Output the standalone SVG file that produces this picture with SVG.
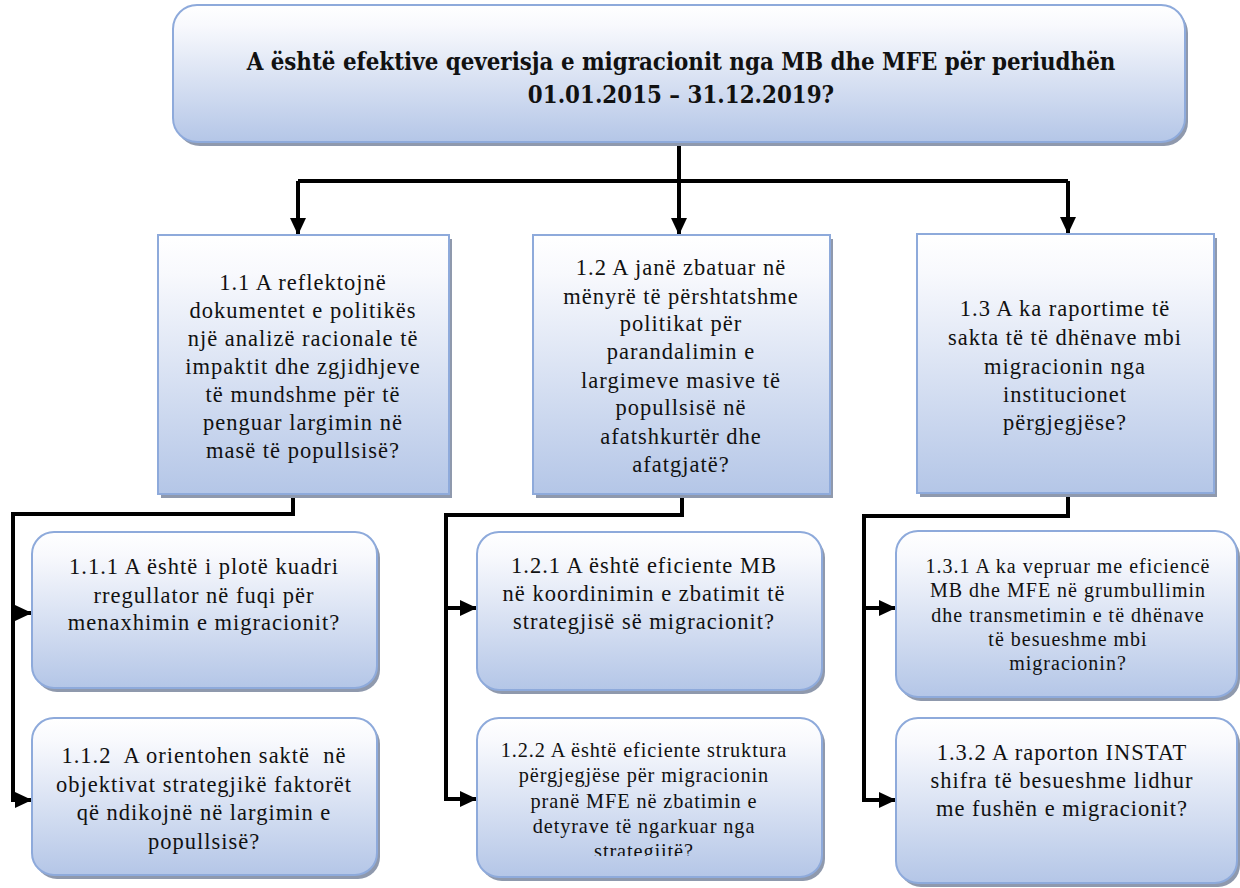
<svg xmlns="http://www.w3.org/2000/svg" width="1240" height="888" viewBox="0 0 1240 888">
<style>
  .box { stroke: #8eaadb; stroke-width: 2; fill: url(#grad); }
  .shadow { fill: #8f99ad; }
  .t { font-family: 'Liberation Serif', 'Times New Roman', serif; font-size: 22.5px; letter-spacing: 1px; fill: #111; text-anchor: middle; }
  .ts { font-size: 20px; letter-spacing: 1px; }
  .tm { font-size: 20.3px; letter-spacing: 0.9px; }
  .title { font-family: 'DejaVu Serif Condensed', 'DejaVu Serif', serif; font-stretch: condensed; font-weight: bold; font-size: 23.8px; fill: #111; text-anchor: middle; }
  .c { fill: none; stroke: #000; stroke-width: 4; }
  .a { fill: none; stroke: #000; stroke-width: 4; marker-end: url(#arr); }
</style>
<defs>
  <linearGradient id="grad" x1="0" y1="0" x2="0" y2="1">
    <stop offset="0" stop-color="#ffffff"/>
    <stop offset="0.15" stop-color="#f8f9fd"/>
    <stop offset="1" stop-color="#b4c6e7"/>
  </linearGradient>
  <marker id="arr" markerUnits="userSpaceOnUse" markerWidth="18" markerHeight="18" viewBox="0 0 18 18" refX="17" refY="9" orient="auto">
    <path d="M0 1 L17 9 L0 17 Z" fill="#000"/>
  </marker>
  <clipPath id="clip122"><rect x="477" y="718" width="345" height="138"/></clipPath>
</defs>

<g id="connectors">
  <path class="c" d="M679 143 V181 M298 181 H1068"/>
  <path class="a" d="M298 181 V235"/>
  <path class="a" d="M679 181 V235"/>
  <path class="a" d="M1068 181 V234"/>
  <path class="c" d="M293 495 V514 H13 V800"/>
  <path class="a" d="M11 800 H32"/>
  <path class="a" d="M11 613 H32"/>
  <path class="c" d="M682 495 V515 H446 V799"/>
  <path class="a" d="M444 799 H477"/>
  <path class="a" d="M444 608 H477"/>
  <path class="c" d="M1068 494 V516 H864 V800"/>
  <path class="a" d="M862 800 H896"/>
  <path class="a" d="M862 608 H896"/>
</g>

<g id="n0">
  <rect class="shadow" x="176" y="9" width="1012" height="137" rx="24"/>
  <rect class="box" x="173" y="5" width="1012" height="137" rx="24"/>
  <text class="title" x="681" y="70">A është efektive qeverisja e migracionit nga MB dhe MFE për periudhën</text>
  <text class="title" x="681" y="103">01.01.2015 – 31.12.2019?</text>
</g>

<g id="n1_1">
  <rect class="shadow" x="161" y="239" width="291" height="259"/>
  <rect class="box" x="158" y="235" width="291" height="259"/>
  <text class="t" x="303" y="290">1.1 A reflektojnë</text>
  <text class="t" x="303" y="318">dokumentet e politikës</text>
  <text class="t" x="303" y="346">një analizë racionale të</text>
  <text class="t" x="303" y="374">impaktit dhe zgjidhjeve</text>
  <text class="t" x="303" y="402">të mundshme për të</text>
  <text class="t" x="303" y="430">penguar largimin në</text>
  <text class="t" x="303" y="458">masë të popullsisë?</text>
</g>

<g id="n1_2">
  <rect class="shadow" x="536" y="239" width="297" height="259"/>
  <rect class="box" x="533" y="235" width="297" height="259"/>
  <text class="t" x="681" y="275">1.2 A janë zbatuar në</text>
  <text class="t" x="681" y="304">mënyrë të përshtatshme</text>
  <text class="t" x="681" y="331">politikat për</text>
  <text class="t" x="681" y="359">parandalimin e</text>
  <text class="t" x="681" y="388">largimeve masive të</text>
  <text class="t" x="681" y="415">popullsisë në</text>
  <text class="t" x="681" y="444">afatshkurtër dhe</text>
  <text class="t" x="681" y="472">afatgjatë?</text>
</g>

<g id="n1_3">
  <rect class="shadow" x="920" y="238" width="297" height="259"/>
  <rect class="box" x="917" y="234" width="297" height="259"/>
  <text class="t" x="1065" y="316">1.3 A ka raportime të</text>
  <text class="t" x="1065" y="345">sakta të të dhënave mbi</text>
  <text class="t" x="1065" y="374">migracionin nga</text>
  <text class="t" x="1065" y="402">institucionet</text>
  <text class="t" x="1065" y="430">përgjegjëse?</text>
</g>

<g id="n1_1_1">
  <rect class="shadow" x="35" y="536" width="345" height="156" rx="22"/>
  <rect class="box" x="32" y="532" width="345" height="156" rx="22"/>
  <text class="t" x="204" y="574">1.1.1 A është i plotë kuadri</text>
  <text class="t" x="204" y="603">rregullator në fuqi për</text>
  <text class="t" x="204" y="630">menaxhimin e migracionit?</text>
</g>

<g id="n1_1_2">
  <rect class="shadow" x="35" y="722" width="345" height="157" rx="22"/>
  <rect class="box" x="32" y="718" width="345" height="157" rx="22"/>
  <text class="t" x="204" y="763" xml:space="preserve">1.1.2  A orientohen saktë  në</text>
  <text class="t" x="204" y="792">objektivat strategjikë faktorët</text>
  <text class="t" x="204" y="820">që ndikojnë në largimin e</text>
  <text class="t" x="204" y="849">popullsisë?</text>
</g>

<g id="n1_2_1">
  <rect class="shadow" x="480" y="536" width="345" height="158" rx="22"/>
  <rect class="box" x="477" y="532" width="345" height="158" rx="22"/>
  <text class="t" x="644" y="573">1.2.1 A është eficiente MB</text>
  <text class="t" x="644" y="601">në koordinimin e zbatimit të</text>
  <text class="t" x="644" y="629">strategjisë së migracionit?</text>
</g>

<g id="n1_2_2">
  <rect class="shadow" x="480" y="722" width="345" height="159" rx="22"/>
  <rect class="box" x="477" y="718" width="345" height="159" rx="22"/>
  <g clip-path="url(#clip122)">
    <text class="t tm" x="644" y="757">1.2.2 A është eficiente struktura</text>
    <text class="t tm" x="644" y="782">përgjegjëse për migracionin</text>
    <text class="t tm" x="644" y="808">pranë MFE në zbatimin e</text>
    <text class="t tm" x="644" y="833">detyrave të ngarkuar nga</text>
    <text class="t tm" x="644" y="858">strategjitë?</text>
  </g>
</g>

<g id="n1_3_1">
  <rect class="shadow" x="899" y="535" width="341" height="166" rx="22"/>
  <rect class="box" x="896" y="531" width="341" height="166" rx="22"/>
  <text class="t ts" x="1068" y="573">1.3.1 A ka vepruar me eficiencë</text>
  <text class="t ts" x="1068" y="597">MB dhe MFE në grumbullimin</text>
  <text class="t ts" x="1068" y="622">dhe transmetimin e të dhënave</text>
  <text class="t ts" x="1068" y="646">të besueshme mbi</text>
  <text class="t ts" x="1068" y="670">migracionin?</text>
</g>

<g id="n1_3_2">
  <rect class="shadow" x="899" y="722" width="341" height="165" rx="22"/>
  <rect class="box" x="896" y="718" width="341" height="165" rx="22"/>
  <text class="t" x="1062" y="760">1.3.2 A raporton INSTAT</text>
  <text class="t" x="1062" y="788">shifra të besueshme lidhur</text>
  <text class="t" x="1062" y="816">me fushën e migracionit?</text>
</g>
</svg>
